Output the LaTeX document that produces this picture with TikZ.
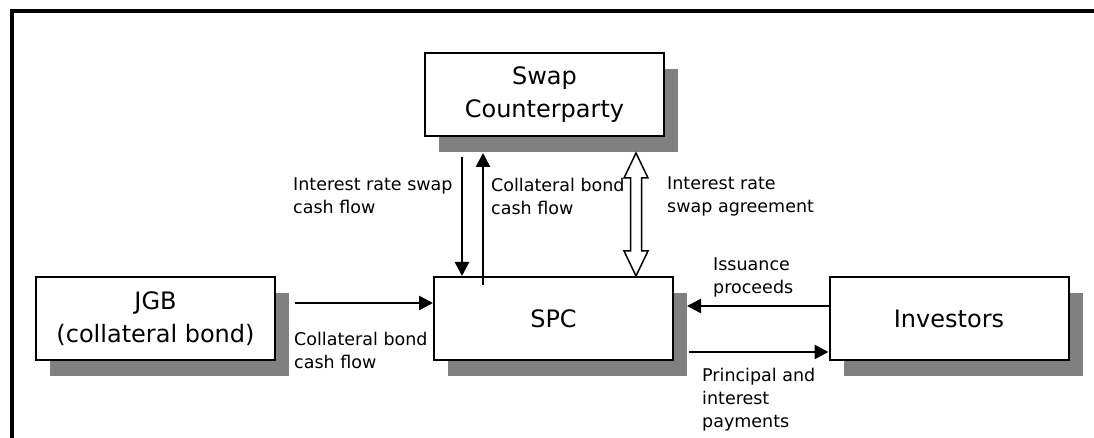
\documentclass[tikz,border=0pt]{standalone}
\usepackage{fontspec}
\setmainfont{DejaVu Sans}
\usetikzlibrary{arrows.meta,shadows,calc}

\begin{document}
\begin{tikzpicture}[x=1pt,y=1pt,
  party/.style={draw, line width=2pt, fill=white, minimum width=239pt, minimum height=83pt,
    align=center, font=\fontsize{24}{33}\selectfont,
    drop shadow={shadow xshift=14pt, shadow yshift=-16pt, fill=black!50, opacity=1}},
  flow/.style={line width=2.6pt, -{Triangle[length=14pt,width=14pt]}},
  lbl/.style={anchor=west, inner sep=0pt, align=left, font=\fontsize{17.5}{23}\selectfont}]
  \useasboundingbox (0,0) rectangle (1094,438);
  \draw[line width=3.5pt] (12,0) -- (12,427) -- (1094,427);

  \node[party] (swap) at (544.5,343.5) {Swap\\Counterparty};
  \node[party] (jgb) at (155.5,119.5) {JGB\\(collateral bond)};
  \node[party] (spc) at (553.5,119.5) {SPC};
  \node[party] (inv) at (949,119.5) {Investors};

  \coordinate (c1) at ([xshift=19pt,yshift=15.5pt]jgb.east);
  \draw[flow] (c1) -- (c1 -| spc.west);
  \draw[flow] ([yshift=12.5pt]inv.west) -- ([xshift=13pt,yshift=12.5pt]spc.east);
  \draw[flow] ([xshift=15pt,yshift=-33.5pt]spc.east) -- ([yshift=-33.5pt]inv.west);
  \draw[flow] ([xshift=-82.5pt,yshift=-20pt]swap.south) -- ([xshift=-91.5pt]spc.north);
  \draw[flow] ([xshift=-70.5pt,yshift=-9pt]spc.north) -- ([xshift=-61.5pt,yshift=-16pt]swap.south);

  % hollow two-way arrow
  \coordinate (agt) at ([xshift=91.5pt,yshift=-16pt]swap.south);
  \coordinate (agb) at ([xshift=82.5pt]spc.north);
  \draw[line width=1.5pt, fill=white] (agt) -- ++(-12,-25) -- ++(6.5,0) -- ($(agb)+(-5.5,25)$) -- ++(-6.5,0)
    -- (agb) -- ++(12,25) -- ++(-6.5,0) -- ($(agt)+(5.5,-25)$) -- ++(6.5,0) -- cycle;

  \node[lbl] (irs) at (293,242) {Interest rate swap\\cash flow};
  \node[lbl] (cbu) at (491,242) {Collateral bond\\cash flow};
  \node[lbl] (isa) at (667,242) {Interest rate\\swap agreement};
  \node[lbl] (cbl) at (294,88) {Collateral bond\\cash flow};
  \node[lbl] (iss) at (713,161) {Issuance\\proceeds};
  \node[lbl] (pip) at (702,38) {Principal and\\interest\\payments};
\end{tikzpicture}
\end{document}
